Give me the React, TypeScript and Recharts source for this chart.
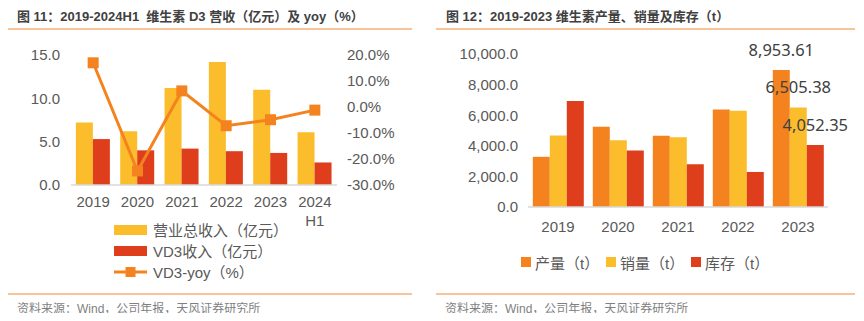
import React from "react"
import { ComposedChart, BarChart, Bar, Line, XAxis, YAxis } from "recharts"

const years1 = ["2019", "2020", "2021", "2022", "2023", "2024H1"]
const totalRevenue = [7.2, 6.2, 11.2, 14.2, 11.0, 6.1]
const vd3Revenue = [5.3, 4.0, 4.2, 3.9, 3.7, 2.6]
const vd3Yoy = [17.0, -24.6, 6.2, -7.2, -4.9, -1.2]
const leftTicks = [0, 5, 10, 15]
const rightTicks = [-30, -20, -10, 0, 10, 20]

const years2 = ["2019", "2020", "2021", "2022", "2023"]
const production = [3280, 5240, 4650, 6380, 8953.61]
const sales = [4680, 4370, 4560, 6290, 6505.38]
const inventory = [6920, 3690, 2800, 2290, 4052.35]
const amountTicks = [0, 2000, 4000, 6000, 8000, 10000]

const YELLOW = "#FBBD2B"
const RED = "#DE3E1B"
const ORANGE = "#F4831F"
const TEXT = "#595959"
const RULE = "#F8C499"
const FONT = "'Liberation Sans', Arial, 'Noto Sans CJK SC', sans-serif"

const revenueData = years1.map((y, i) => ({
  year: y,
  total: totalRevenue[i],
  vd3: vd3Revenue[i],
  yoy: vd3Yoy[i],
}))

const outputData = years2.map((y, i) => ({
  year: y,
  prod: production[i],
  sales: sales[i],
  inv: inventory[i],
}))

const YearTick = ({ x, y, payload }: any) => {
  const m = String(payload.value).match(/^(\d{4})(H\d)$/)
  const lines = m ? [m[1], m[2]] : [payload.value]
  return (
    <text x={x} y={y} textAnchor="middle" fill={TEXT} fontSize={15} fontFamily={FONT}>
      {lines.map((l: string, i: number) => (
        <tspan key={i} x={x} dy={i === 0 ? "0.71em" : "1.3em"}>
          {l}
        </tspan>
      ))}
    </text>
  )
}

const SquareDot = ({ cx, cy }: any) => (
  <rect x={cx - 5.5} y={cy - 5.5} width={11} height={11} fill={ORANGE} />
)

const lastLabel = (n: number) => (props: any) => {
  const { x, y, width, value, index } = props
  if (index !== n - 1) return null
  return (
    <text x={x + width / 2} y={y - 14} textAnchor="middle" fill="#404040" fontSize={16.5} fontFamily="'Noto Sans', sans-serif">
      {Number(value).toLocaleString("en-US", { minimumFractionDigits: 2, maximumFractionDigits: 2 })}
    </text>
  )
}

const fmtAmount = (v: number) => v.toLocaleString("en-US", { minimumFractionDigits: 1, maximumFractionDigits: 1 })

const titleStyle: React.CSSProperties = {
  position: "absolute",
  top: 6,
  fontSize: 13,
  fontWeight: 700,
  color: "#404040",
  fontFamily: FONT,
  whiteSpace: "nowrap",
}

const sourceStyle: React.CSSProperties = {
  position: "absolute",
  top: 299,
  fontSize: 12,
  color: "#7f7f7f",
  fontFamily: FONT,
  whiteSpace: "nowrap",
}

const rule = (left: number, width: number, top: number): React.CSSProperties => ({
  position: "absolute",
  left,
  width,
  top,
  height: 1.5,
  background: RULE,
})

const legendText: React.CSSProperties = { fontSize: 15, color: TEXT, fontFamily: FONT, whiteSpace: "nowrap" }

export default function App() {
  return (
    <div style={{ position: "relative", width: 864, height: 321, background: "#fff", margin: -8, overflow: "hidden" }}>
      {/* left panel */}
      <div style={{ ...titleStyle, left: 17 }}>图 11：2019-2024H1&nbsp;&nbsp;维生素 D3 营收（亿元）及 yoy（%）</div>
      <div style={rule(8, 404, 28)} />
      <div style={{ position: "absolute", left: 0, top: 0 }}>
        <ComposedChart width={432} height={230} data={revenueData} margin={{ top: 55, right: 0, bottom: 0, left: 0 }} barCategoryGap="11%" barGap={0}>
          <XAxis
            dataKey="year"
            height={45}
            tick={<YearTick />}
            tickLine={false}
            tickMargin={5}
            axisLine={{ stroke: "#d9d9d9", strokeWidth: 1.5 }}
            interval={0}
          />
          <YAxis
            yAxisId="left"
            width={71}
            domain={[0, 15]}
            ticks={leftTicks}
            tickFormatter={(v: number) => v.toFixed(1)}
            tick={{ fill: TEXT, fontSize: 15, fontFamily: FONT }}
            tickLine={false}
            axisLine={false}
            tickMargin={5}
          />
          <YAxis
            yAxisId="right"
            orientation="right"
            width={95}
            domain={[-30, 20]}
            ticks={rightTicks}
            tickFormatter={(v: number) => v.toFixed(1) + "%"}
            tick={{ fill: TEXT, fontSize: 15, fontFamily: FONT, textAnchor: "start" }}
            tickLine={false}
            axisLine={false}
            tickMargin={4}
          />
          <Bar yAxisId="left" dataKey="total" fill={YELLOW} isAnimationActive={false} />
          <Bar yAxisId="left" dataKey="vd3" fill={RED} isAnimationActive={false} />
          <Line
            yAxisId="right"
            dataKey="yoy"
            stroke={ORANGE}
            strokeWidth={3}
            dot={<SquareDot />}
            activeDot={false}
            isAnimationActive={false}
          />
        </ComposedChart>
      </div>
      <div style={{ position: "absolute", left: 114, top: 219 }}>
        <div style={{ display: "flex", alignItems: "center", height: 21 }}>
          <div style={{ width: 33, height: 10, background: YELLOW, marginRight: 6 }} />
          <span style={legendText}>营业总收入（亿元）</span>
        </div>
        <div style={{ display: "flex", alignItems: "center", height: 21 }}>
          <div style={{ width: 33, height: 10, background: RED, marginRight: 6 }} />
          <span style={legendText}>VD3收入（亿元）</span>
        </div>
        <div style={{ display: "flex", alignItems: "center", height: 21 }}>
          <svg width={33} height={12} style={{ marginRight: 6 }}>
            <line x1={0} y1={6} x2={33} y2={6} stroke={ORANGE} strokeWidth={3} />
            <rect x={11.5} y={1} width={10} height={10} fill={ORANGE} />
          </svg>
          <span style={legendText}>VD3-yoy（%）</span>
        </div>
      </div>
      <div style={rule(8, 404, 293)} />
      <div style={{ ...sourceStyle, left: 17 }}>资料来源：Wind，公司年报，天风证券研究所</div>

      {/* right panel */}
      <div style={{ ...titleStyle, left: 446 }}>图 12：2019-2023 维生素产量、销量及库存（t）</div>
      <div style={rule(436, 419, 28)} />
      <div style={{ position: "absolute", left: 432, top: 0 }}>
        <BarChart width={432} height={237} data={outputData} margin={{ top: 54, right: 36, bottom: 0, left: 0 }} barCategoryGap="8%" barGap={0}>
          <XAxis
            dataKey="year"
            height={30}
            tick={{ fill: TEXT, fontSize: 15, fontFamily: FONT }}
            tickLine={false}
            tickMargin={8}
            axisLine={{ stroke: "#d9d9d9", strokeWidth: 1.5 }}
          />
          <YAxis
            width={96}
            domain={[0, 10000]}
            ticks={amountTicks}
            tickFormatter={fmtAmount}
            tick={{ fill: TEXT, fontSize: 15, fontFamily: FONT }}
            tickLine={false}
            axisLine={false}
            tickMargin={4}
          />
          <Bar dataKey="prod" fill={ORANGE} isAnimationActive={false} label={lastLabel(years2.length)} />
          <Bar dataKey="sales" fill={YELLOW} isAnimationActive={false} label={lastLabel(years2.length)} />
          <Bar dataKey="inv" fill={RED} isAnimationActive={false} label={lastLabel(years2.length)} />
        </BarChart>
      </div>
      <div style={{ position: "absolute", left: 521, top: 252, display: "flex", alignItems: "center", height: 20 }}>
        {[
          ["产量（t）", ORANGE],
          ["销量（t）", YELLOW],
          ["库存（t）", RED],
        ].map(([name, c]) => (
          <div key={name} style={{ display: "flex", alignItems: "center", width: 85 }}>
            <div style={{ width: 10, height: 10, background: c, marginRight: 4 }} />
            <span style={legendText}>{name}</span>
          </div>
        ))}
      </div>
      <div style={rule(436, 419, 293)} />
      <div style={{ ...sourceStyle, left: 445 }}>资料来源：Wind，公司年报，天风证券研究所</div>
    </div>
  )
}
